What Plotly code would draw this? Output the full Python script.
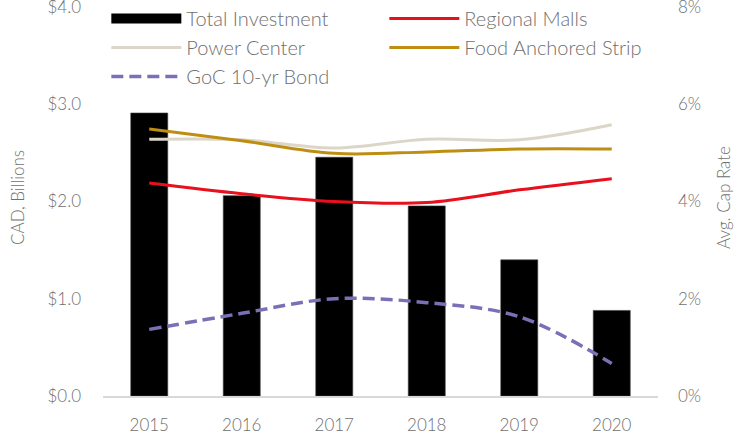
import plotly.graph_objects as go

years = ["2015", "2016", "2017", "2018", "2019", "2020"]
total_investment = [2.91, 2.06, 2.455, 1.955, 1.40, 0.88]
regional_malls = [4.38, 4.16, 4.0, 3.98, 4.24, 4.47]
power_center = [5.28, 5.27, 5.1, 5.28, 5.27, 5.58]
food_anchored = [5.49, 5.25, 4.99, 5.02, 5.08, 5.08]
goc_bond = [1.37, 1.70, 2.0, 1.92, 1.63, 0.67]

left_ticks = [0, 1, 2, 3, 4]
left_labels = ["$0.0", "$1.0", "$2.0", "$3.0", "$4.0"]
right_ticks = [0, 2, 4, 6, 8]
right_labels = ["0%", "2%", "4%", "6%", "8%"]

# axis tops sit slightly above the last tick so the legend can start above the $4.0 line
left_range = [0, 4.0823]
right_range = [0, 8.1646]

txt = "#6f6f6f"
font = dict(family="Source Sans Pro, Lato, Open Sans, sans-serif", size=17, color=txt, weight=300)
legend_font = dict(family="Source Sans Pro, Lato, Open Sans, sans-serif", size=20, color=txt, weight=300)

fig = go.Figure()
# legend proxy so the bar series shows a wide black swatch like the original
fig.add_trace(go.Scatter(x=[None], y=[None], name="Total Investment", mode="lines",
                         line=dict(color="#000000", width=11), hoverinfo="skip"))
fig.add_trace(go.Bar(x=years, y=total_investment, name="Total Investment", showlegend=False,
                     marker=dict(color="#000000", line=dict(color="#404040", width=0.6)),
                     width=0.4))
fig.add_trace(go.Scatter(x=years, y=regional_malls, name="Regional Malls", yaxis="y2",
                         mode="lines", line=dict(color="#E8101C", width=3, shape="spline")))
fig.add_trace(go.Scatter(x=years, y=power_center, name="Power Center", yaxis="y2",
                         mode="lines", line=dict(color="#DCD6C8", width=3, shape="spline")))
fig.add_trace(go.Scatter(x=years, y=food_anchored, name="Food Anchored Strip", yaxis="y2",
                         mode="lines", line=dict(color="#BE8E12", width=3, shape="spline")))
fig.add_trace(go.Scatter(x=years, y=goc_bond, name="GoC 10-yr Bond", yaxis="y2",
                         mode="lines", line=dict(color="#7A70B6", width=3.5, dash="12px,6px", shape="spline")))

fig.update_layout(
    width=734, height=442,
    margin=dict(l=103, r=76, t=7, b=38),
    paper_bgcolor="white", plot_bgcolor="white",
    font=font,
    showlegend=True,
    legend=dict(orientation="h", x=0.006, y=1.0, xanchor="left", yanchor="top",
                entrywidth=193, entrywidthmode="pixels", itemwidth=70,
                bgcolor="rgba(0,0,0,0)", font=legend_font, tracegroupgap=0,
                traceorder="normal"),
    xaxis=dict(showline=True, linecolor="#d9d9d9", linewidth=1.5, showgrid=False,
               ticks="", ticklabelstandoff=13, tickfont=font, zeroline=False,
               automargin=False),
    yaxis=dict(range=left_range, tickvals=left_ticks, ticktext=left_labels, showgrid=False,
               zeroline=False, showline=False, ticklabelstandoff=21, tickfont=font,
               ticklabeloverflow="allow", automargin=False,
               title=dict(text="CAD, Billions", font=font, standoff=18)),
    yaxis2=dict(range=right_range, tickvals=right_ticks, ticktext=right_labels, overlaying="y",
                side="right", showgrid=False, zeroline=False, showline=False,
                ticklabelstandoff=19, tickfont=font, ticklabeloverflow="allow",
                automargin=False,
                title=dict(text="Avg. Cap Rate", font=font, standoff=18)),
)

fig.write_html("out.html", config={"displayModeBar": False},
               post_script="document.body.style.margin='0';document.body.style.marginTop='-8px';document.body.style.overflow='hidden';")
